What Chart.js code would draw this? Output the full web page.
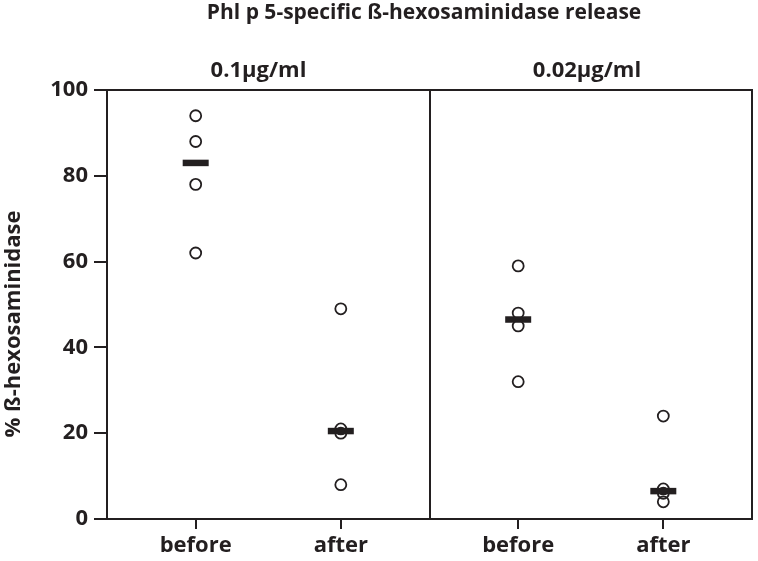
<!DOCTYPE html>
<html>
<head>
<meta charset="utf-8">
<script src="https://cdn.jsdelivr.net/npm/chart.js@4"></script>
<style>
  html, body { margin: 0; background: #fff; overflow: hidden; }
  canvas { display: block; }
</style>
</head>
<body>
<canvas id="graph" width="758" height="561"></canvas>
<script>
// values (4 donors per group)
var groupLabels = ['before', 'after', 'before', 'after'];
var doseLabels = ['0.1µg/ml', '0.02µg/ml'];
var before01 = [94, 88, 78, 62];
var after01 = [49, 21, 20, 8];
var before002 = [59, 48, 45, 32];
var after002 = [24, 7, 6, 4];
var yTicks = [0, 20, 40, 60, 80, 100];

var ink = '#231f20';
var font = "'Open Sans', sans-serif";

var groups = [before01, after01, before002, after002];
// each dose panel spans 2 units on the x scale
var groupX = groups.map((g, i) => Math.floor(i / 2) * 2 + (i % 2 ? 1.45 : 0.55));

var median = (arr) => {
    var s = arr.slice().sort((a, b) => a - b);
    var m = Math.floor(s.length / 2);
    return s.length % 2 ? s[m] : (s[m - 1] + s[m]) / 2;
};

var points = [];
groups.forEach((g, i) => g.forEach((v) => points.push({ x: groupX[i], y: v })));
var medians = groups.map((g, i) => ({ x: groupX[i], y: median(g) }));

var frame = {
    id: 'frame',
    afterDraw(chart) {
        var c = chart.ctx, a = chart.chartArea, xs = chart.scales.x;
        c.save();
        c.strokeStyle = ink;
        c.lineWidth = 2;
        c.beginPath();
        c.moveTo(a.left, a.top); c.lineTo(a.right, a.top); c.lineTo(a.right, a.bottom);
        var mid = Math.round(xs.getPixelForValue(2));
        c.moveTo(mid, a.top); c.lineTo(mid, a.bottom);
        c.stroke();

        c.fillStyle = ink;
        c.textAlign = 'center';
        c.textBaseline = 'middle';
        c.font = 'bold 21px ' + font;
        c.fillText('Phl p 5-specific ß-hexosaminidase release', 424, 13);
        c.font = 'bold 22px ' + font;
        c.fillText(doseLabels[0], (a.left + mid) / 2 - 10, 71);
        c.fillText(doseLabels[1], (mid + a.right) / 2 - 4, 71);

        c.translate(14, 324);
        c.rotate(-Math.PI / 2);
        c.font = 'bold 22px ' + font;
        c.fillText('% ß-hexosaminidase', 0, 0);
        c.restore();
    }
};

new Chart(document.getElementById('graph'), {
    type: 'scatter',
    data: {
        datasets: [{
            data: points,
            order: 0,
            pointStyle: 'circle',
            pointRadius: 5.5,
            pointBorderWidth: 1.8,
            pointBorderColor: ink,
            pointBackgroundColor: 'rgba(0,0,0,0)'
        }, {
            data: medians,
            order: 1,
            pointStyle: 'line',
            pointRadius: 13,
            pointBorderWidth: 6.5,
            pointBorderColor: ink
        }]
    },
    options: {
        responsive: false,
        animation: false,
        layout: { autoPadding: false, padding: { top: 90, right: 6, left: 0, bottom: 0 } },
        plugins: { legend: { display: false }, tooltip: { enabled: false } },
        scales: {
            x: {
                type: 'linear',
                min: 0,
                max: 4,
                afterBuildTicks: (s) => { s.ticks = groupX.map((v) => ({ value: v })); },
                afterFit: (s) => { s.height = 42; s.paddingLeft = 0; s.paddingRight = 0; },
                grid: { drawOnChartArea: false, tickLength: 10, lineWidth: 2, color: ink },
                border: { display: true, width: 2, color: ink },
                ticks: {
                    autoSkip: false,
                    maxRotation: 0,
                    padding: 4,
                    color: ink,
                    font: { family: font, size: 22, weight: 'bold' },
                    callback: (v, i) => groupLabels[i]
                }
            },
            y: {
                min: 0,
                max: 100,
                afterBuildTicks: (s) => { s.ticks = yTicks.map((v) => ({ value: v })); },
                afterFit: (s) => { s.width = 107; s.paddingTop = 0; s.paddingBottom = 0; },
                grid: { drawOnChartArea: false, tickLength: 13, lineWidth: 2, color: ink },
                border: { display: true, width: 2, color: ink },
                ticks: {
                    padding: 6,
                    color: ink,
                    font: { family: font, size: 22, weight: 'bold' }
                }
            }
        }
    },
    plugins: [frame]
});
</script>
</body>
</html>
